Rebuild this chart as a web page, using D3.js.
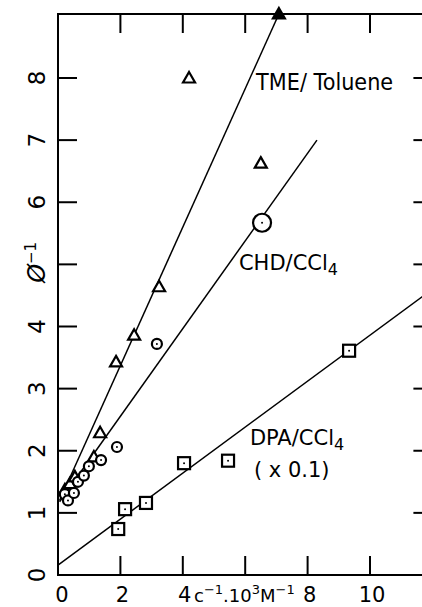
<!DOCTYPE html>
<html>
<head>
<meta charset="utf-8">
<script src="https://cdn.jsdelivr.net/npm/d3@7"></script>
<style>
  body { margin: 0; background: #fff; }
  text { font-family: "DejaVu Sans", sans-serif; fill: #000; }
</style>
</head>
<body>
<div id="chart"></div>
<script>
// axis ticks
const xTicks = [0, 2, 4, 6, 8, 10];
const xTickLabels = ["0", "2", "4", "", "8", "10"];
const yTicks = [0, 1, 2, 3, 4, 5, 6, 7, 8];
const yTickLabels = ["0", "1", "2", "3", "4", "", "6", "7", "8"];

// TME / Toluene (triangles)
const tmeX = [0.22, 0.38, 0.54, 1.15, 1.35, 1.86, 2.44, 3.24, 4.2, 6.5, 7.08];
const tmeY = [1.37, 1.47, 1.58, 1.9, 2.29, 3.43, 3.86, 4.64, 8.0, 6.63, 9.03];
// CHD / CCl4 (circles)
const chdX = [0.22, 0.32, 0.51, 0.64, 0.83, 0.99, 1.38, 1.89, 3.17, 6.54];
const chdY = [1.3, 1.2, 1.32, 1.5, 1.6, 1.75, 1.85, 2.06, 3.72, 5.67];
// DPA / CCl4 x 0.1 (squares)
const dpaX = [1.93, 2.15, 2.82, 4.04, 5.45, 9.33];
const dpaY = [0.74, 1.06, 1.16, 1.80, 1.84, 3.61];

// fitted lines (start, end)
const tmeFit = [[0.05, 1.2], [7.08, 9.03]];
const chdFit = [[0.05, 1.18], [8.3, 7.0]];
const dpaFit = [[0, 0.16], [12, 4.6]];

const width = 422, height = 607;
const margin = {top: 14, left: 58, bottom: 32};

const svg = d3.select("#chart")
    .append("svg")
    .attr("width", width)
    .attr("height", height);

const x = d3.scaleLinear().domain([0, 12]).range([margin.left, margin.left + 12 * 31.2]);
const y = d3.scaleLinear().domain([0, 9.03]).range([height - margin.bottom, margin.top]);

// frame
svg.append("rect")
    .attr("x", x(0)).attr("y", y(9.03))
    .attr("width", x(12) - x(0)).attr("height", y(0) - y(9.03))
    .attr("fill", "none").attr("stroke", "#000").attr("stroke-width", 2);

// inward ticks on all four sides
const tickLen = 19;
const tk = svg.append("g").attr("stroke", "#000").attr("stroke-width", 2);
xTicks.filter(d => d > 0).forEach(d => {
    tk.append("line").attr("x1", x(d)).attr("x2", x(d)).attr("y1", y(0)).attr("y2", y(0) - tickLen);
    tk.append("line").attr("x1", x(d)).attr("x2", x(d)).attr("y1", y(9.03)).attr("y2", y(9.03) + tickLen);
});
yTicks.filter(d => d > 0).forEach(d => {
    tk.append("line").attr("x1", x(0)).attr("x2", x(0) + tickLen).attr("y1", y(d)).attr("y2", y(d));
    tk.append("line").attr("x1", x(12)).attr("x2", x(12) - tickLen).attr("y1", y(d)).attr("y2", y(d));
});

// tick labels
svg.append("g").selectAll("text")
    .data(xTicks.map((d, i) => ({v: d, t: xTickLabels[i]})).filter(d => d.t))
    .join("text")
    .attr("x", d => x(d.v) + (d.v === 0 ? 4 : 2))
    .attr("y", 602)
    .attr("text-anchor", "middle")
    .style("font-size", "21px")
    .text(d => d.t);

svg.append("g").selectAll("text")
    .data(yTicks.map((d, i) => ({v: d, t: yTickLabels[i]})).filter(d => d.t))
    .join("text")
    .attr("transform", d => `translate(37,${y(d.v)}) rotate(-90)`)
    .attr("text-anchor", "middle")
    .attr("dy", "0.36em")
    .style("font-size", "23px")
    .text(d => d.t);

// axis titles
const yt = svg.append("text")
    .attr("transform", `translate(36,${y(5) - 2}) rotate(-90)`)
    .attr("text-anchor", "middle")
    .attr("dy", "0.36em")
    .style("font-size", "24px")
    .style("font-style", "italic");
yt.append("tspan").text("Ø");
yt.append("tspan").attr("dy", "-0.55em").style("font-size", "15px").style("font-style", "normal").text("−1");

const xt = svg.append("text")
    .attr("x", 194).attr("y", 602)
    .style("font-size", "18px");
xt.append("tspan").text("c");
xt.append("tspan").attr("dy", -8).style("font-size", "13px").text("−1");
xt.append("tspan").attr("dy", 8).text(".10");
xt.append("tspan").attr("dy", -8).style("font-size", "13px").text("3");
xt.append("tspan").attr("dy", 8).text("M");
xt.append("tspan").attr("dy", -8).style("font-size", "13px").text("−1");

// fitted lines
const line = d3.line().x(d => x(d[0])).y(d => y(d[1]));
svg.append("g").selectAll("path")
    .data([tmeFit, chdFit, dpaFit])
    .join("path")
    .attr("d", line)
    .attr("fill", "none")
    .attr("stroke", "#000")
    .attr("stroke-width", 1.5);

// markers
const tme = tmeX.map((d, i) => [d, tmeY[i]]);
const chd = chdX.map((d, i) => [d, chdY[i]]);
const dpa = dpaX.map((d, i) => [d, dpaY[i]]);

svg.append("g").selectAll("path")
    .data(tme)
    .join("path")
    .attr("transform", d => `translate(${x(d[0])},${y(d[1])})`)
    .attr("d", "M0,-6L6,4.5L-6,4.5Z")
    .attr("fill", d => d[1] >= 9 ? "#000" : "#fff")
    .attr("stroke", "#000")
    .attr("stroke-width", 2.2);

svg.append("g").selectAll("circle")
    .data(chd)
    .join("circle")
    .attr("cx", d => x(d[0]))
    .attr("cy", d => y(d[1]))
    .attr("r", d => d[0] > 6 ? 9 : 5)
    .attr("fill", "#fff")
    .attr("stroke", "#000")
    .attr("stroke-width", 2.2);

svg.append("g").selectAll("rect")
    .data(dpa)
    .join("rect")
    .attr("x", d => x(d[0]) - 6)
    .attr("y", d => y(d[1]) - 6)
    .attr("width", 12).attr("height", 12)
    .attr("fill", "#fff")
    .attr("stroke", "#000")
    .attr("stroke-width", 2.2);

// dots inside markers
svg.append("g").selectAll("circle")
    .data(dpa.concat(chd))
    .join("circle")
    .attr("cx", d => x(d[0]))
    .attr("cy", d => y(d[1]))
    .attr("r", 1)
    .attr("fill", "#000");

// series labels
svg.append("text")
    .attr("x", x(6.35)).attr("y", y(7.8))
    .attr("textLength", 137).attr("lengthAdjust", "spacingAndGlyphs")
    .style("font-size", "23px")
    .text("TME/ Toluene");

const chdLab = svg.append("text")
    .attr("x", x(5.8)).attr("y", y(4.91))
    .style("font-size", "21px");
chdLab.append("tspan").text("CHD/CCl");
chdLab.append("tspan").attr("dy", "0.3em").style("font-size", "16px").text("4");

const dpaLab = svg.append("text")
    .attr("x", x(6.15)).attr("y", y(2.09))
    .style("font-size", "21px");
dpaLab.append("tspan").text("DPA/CCl");
dpaLab.append("tspan").attr("dy", "0.3em").style("font-size", "16px").text("4");

svg.append("text")
    .attr("x", x(6.28)).attr("y", y(1.58))
    .style("font-size", "21px")
    .text("( x 0.1)");
</script>
</body>
</html>
